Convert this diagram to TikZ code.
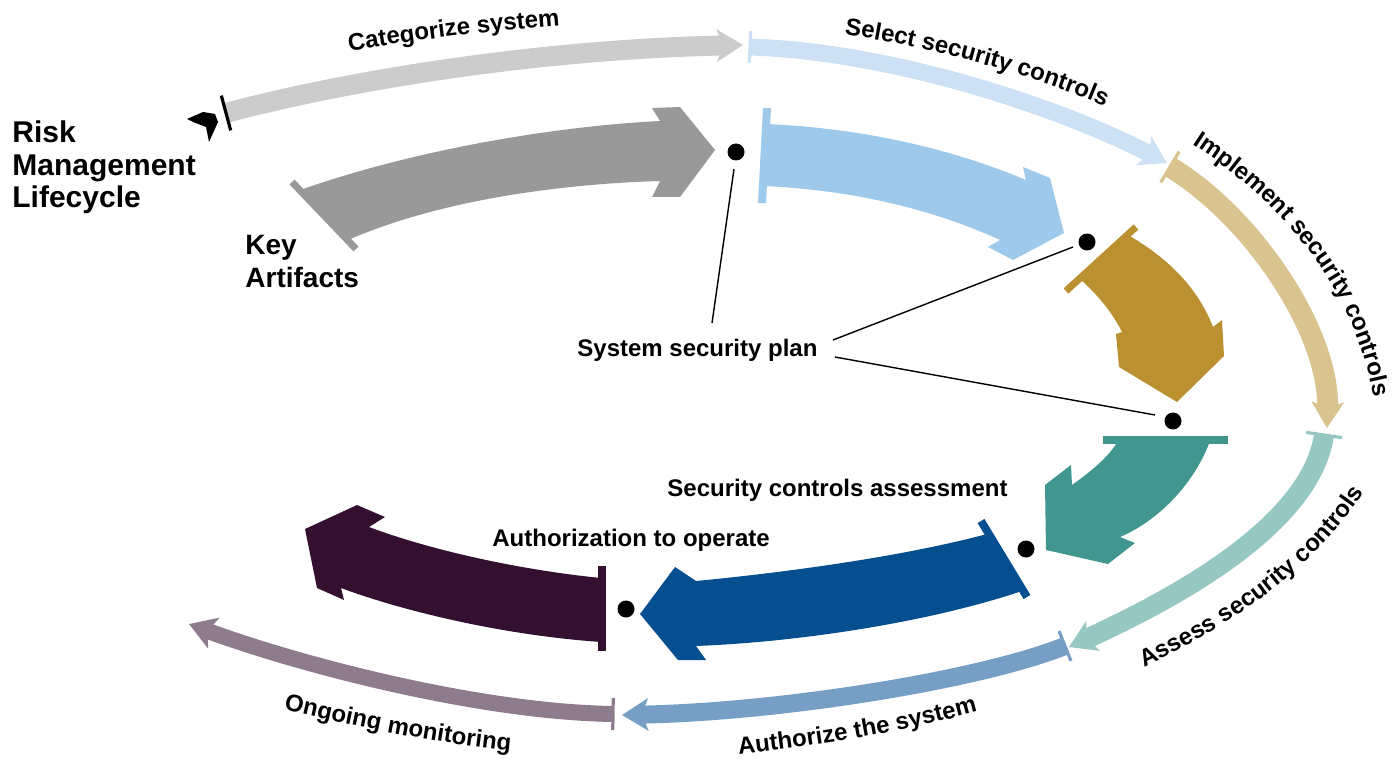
\documentclass[tikz,border=0pt]{standalone}
\usepackage{fontspec}
\setmainfont{Liberation Sans}
\usetikzlibrary{arrows.meta,calc,decorations.text}
\definecolor{cCat}{HTML}{CCCCCC}
\definecolor{cSel}{HTML}{CCE2F4}
\definecolor{cImp}{HTML}{D9C38E}
\definecolor{cAss}{HTML}{97C7C3}
\definecolor{cAut}{HTML}{779FC5}
\definecolor{cOng}{HTML}{8E7B8E}
\definecolor{kGray}{HTML}{999999}
\definecolor{kBlue}{HTML}{9FC9EA}
\definecolor{kGold}{HTML}{BA9030}
\definecolor{kTeal}{HTML}{41978F}
\definecolor{kNavy}{HTML}{054F91}
\definecolor{kPlum}{HTML}{33102F}
\begin{document}
\begin{tikzpicture}[x=0.5pt,y=-0.5pt,
  lbl/.style={inner sep=0pt, font=\bfseries\fontsize{12}{14}\selectfont},
  biglbl/.style={inner sep=0pt, font=\bfseries\fontsize{15}{17}\selectfont},
  keylbl/.style={inner sep=0pt, font=\bfseries\fontsize{14}{16}\selectfont},
  ring/.style={line width=#1, -{Stealth[length=13pt,width=16pt,inset=3pt]}},
  ring/.default=9pt,
  tailbar/.style={line width=1.6pt},
  artbar/.style={line width=#1},
  artbar/.default=3.5pt,
  dot/.style={circle, fill=black, inner sep=0pt, minimum size=8.5pt},
  leader/.style={line width=0.7pt, black},
  arc text/.style={decorate, decoration={text along path, text align={center},
     text={|\bfseries\fontsize{12}{14}\selectfont|#1}}}
]
\useasboundingbox (0,0) rectangle (1397,759);

% ---------------- outer ring ----------------
\coordinate (c0) at (226,113); \coordinate (c1) at (330,85);
\coordinate (c2) at (520,50);  \coordinate (c3) at (743,45);
\draw[ring=10pt, cCat] (c0) .. controls (c1) and (c2) .. (c3);
\draw[tailbar, black] ($(c0)!9pt!90:(c1)$) -- ($(c0)!9pt!-90:(c1)$);

\coordinate (s0) at (750,47); \coordinate (s1) at (900,52);
\coordinate (s2) at (1070,112); \coordinate (s3) at (1167,163);
\draw[ring=8.5pt, cSel] (s0) .. controls (s1) and (s2) .. (s3);
\draw[tailbar, cSel] ($(s0)!8pt!90:(s1)$) -- ($(s0)!8pt!-90:(s1)$);

\coordinate (i0) at (1170,167); \coordinate (i1) at (1250,215);
\coordinate (i2) at (1330,330); \coordinate (i3) at (1327,428);
\draw[ring=10.5pt, cImp] (i0) .. controls (i1) and (i2) .. (i3);
\draw[tailbar, cImp] ($(i0)!9pt!90:(i1)$) -- ($(i0)!9pt!-90:(i1)$);

\coordinate (a0) at (1324,435); \coordinate (a1) at (1310,530);
\coordinate (a2) at (1160,605); \coordinate (a3) at (1069,647);
\draw[ring=10pt, cAss] (a0) .. controls (a1) and (a2) .. (a3);
\draw[tailbar, cAss] ($(a0)!9pt!90:(a1)$) -- ($(a0)!9pt!-90:(a1)$);

\coordinate (u0) at (1065,646); \coordinate (u1) at (980,680);
\coordinate (u2) at (780,712); \coordinate (u3) at (622,715);
\draw[ring=9pt, cAut] (u0) .. controls (u1) and (u2) .. (u3);
\draw[tailbar, cAut] ($(u0)!8pt!90:(u1)$) -- ($(u0)!8pt!-90:(u1)$);

\coordinate (o0) at (613,714); \coordinate (o1) at (480,712);
\coordinate (o2) at (300,665); \coordinate (o3) at (189,624);
\draw[ring=8pt, cOng] (o0) .. controls (o1) and (o2) .. (o3);
\draw[tailbar, cOng] ($(o0)!8pt!90:(o1)$) -- ($(o0)!8pt!-90:(o1)$);

% black chevron
\fill[black] (187,119) -- (203,112) -- (215,114) -- (218,122) -- (209,142) -- (206,127) -- (193,122) -- cycle;

% ---------------- key artifacts (inner ring) ----------------
\fill[kGray] (300,190) .. controls (420,148) and (560,126) .. (660,121) -- (652,108) -- (680,107)
  -- (715,150) -- (680,197) -- (652,197) -- (660,181) .. controls (560,184) and (440,200) .. (348,240) -- cycle;
\draw[artbar, kGray] (292,182) -- (356,249);

\fill[kBlue] (766,124) .. controls (860,128) and (950,148) .. (1026,180) -- (1023,167) -- (1050,178)
  -- (1064,233) -- (1013,260) -- (988,247) -- (1000,240) .. controls (930,208) and (850,190) .. (764,186) -- cycle;
\draw[artbar=4pt, kBlue] (767,108) -- (762,203);

\fill[kGold] (1080,279) .. controls (1100,297) and (1113,314) .. (1122,332) -- (1116,334) -- (1119,367)
  -- (1177,402) -- (1224,356) -- (1222,320) -- (1213,327) .. controls (1198,288) and (1168,258) .. (1128,235) -- cycle;
\draw[artbar, kGold] (1066,291) -- (1136,227);

\fill[kTeal] (1118,441) -- (1210,441) .. controls (1195,482) and (1160,520) .. (1120,537) -- (1135,543)
  -- (1108,564) -- (1046,550) -- (1045,485) -- (1071,465) -- (1072,485) .. controls (1090,472) and (1108,458) .. (1118,441) -- cycle;
\draw[artbar=4pt, kTeal] (1103,440) -- (1228,440);

\fill[kNavy] (987,534) .. controls (905,556) and (790,572) .. (696,581) -- (675,567) -- (640,614)
  -- (678,660) -- (706,660) -- (696,646) .. controls (800,642) and (930,622) .. (1022,591) -- cycle;
\draw[artbar=4pt, kNavy] (981,521) -- (1027,597);

\fill[kPlum] (601,578) .. controls (520,570) and (430,550) .. (369,527) -- (385,517) -- (357,505)
  -- (305,529) -- (317,588) -- (344,600) -- (341,588) .. controls (400,610) and (500,635) .. (601,642) -- cycle;
\draw[artbar=4pt, kPlum] (602,566) -- (602,651);

% dots
\node[dot] (d1) at (736,152) {};
\node[dot] (d2) at (1087,242) {};
\node[dot] (d3) at (1173,421) {};
\node[dot] (d4) at (1026,549) {};
\node[dot] (d5) at (626,609) {};

% labels
\node[lbl, anchor=base west] (ssp) at (577,357) {System security plan};
\node[lbl, anchor=base west] (sca) at (667,496) {Security controls assessment};
\node[lbl, anchor=base west] (ato) at (492,546) {Authorization to operate};
\node[biglbl, anchor=base west] (rm1) at (12,143) {Risk};
\node[biglbl, anchor=base west] (rm2) at (12,176) {Management};
\node[biglbl, anchor=base west] (rm3) at (12,208) {Lifecycle};
\node[keylbl, anchor=base west] (ka1) at (245,255) {Key};
\node[keylbl, anchor=base west] (ka2) at (245,287) {Artifacts};

% leader lines
\coordinate (e1) at (712,323); \coordinate (f1) at (734,169);
\coordinate (e2) at (833,340); \coordinate (f2) at (1073,247);
\coordinate (e3) at (835,357); \coordinate (f3) at (1155,415);
\draw[leader] (e1) -- (f1);
\draw[leader] (e2) -- (f2);
\draw[leader] (e3) -- (f3);

% curved ring labels
\path[arc text={Categorize system}] (295,61) .. controls (395,41) and (515,27) .. (615,22);
\path[arc text={Select security controls}] (800,29) .. controls (900,38) and (1050,75) .. (1145,126);
\path[arc text={Implement security controls}] (1160,125) .. controls (1270,185) and (1370,290) .. (1378,435);
\path[arc text={Assess security controls}] (1105,685) .. controls (1210,640) and (1330,570) .. (1385,455);
\path[arc text={Authorize the system}] (700,758) .. controls (790,750) and (920,732) .. (1015,700);
\path[arc text={Ongoing monitoring}] (245,700) .. controls (330,722) and (450,748) .. (550,754);
\end{tikzpicture}
\end{document}
